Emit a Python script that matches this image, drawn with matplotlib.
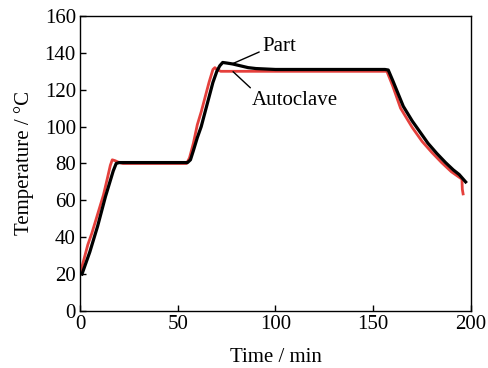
import matplotlib
matplotlib.use("Agg")
import matplotlib.pyplot as plt

plt.rcParams['font.family'] = ['Liberation Serif', 'DejaVu Serif']

# Part temperature (black)
part_t = [1, 3, 5, 7, 9, 11, 13, 15, 17, 18.5, 20, 30, 40, 50, 55, 56.5, 58, 60,
          62, 64, 66, 68, 70, 71.5, 73, 75, 78, 82, 86, 90, 100, 120, 140, 156,
          157.7, 160, 165.4, 170, 174, 178, 182.5, 187, 191, 194, 197.3]
part_T = [20, 26, 32, 39, 46, 54, 62, 69, 76, 80, 80.5, 80.5, 80.5, 80.5, 80.5,
          82, 87, 94, 100, 108, 116, 124, 130, 133, 134.8, 134.5, 134, 133, 132,
          131.5, 131, 131, 131, 131, 130.7, 125, 111, 103, 97, 91, 85.5, 80.5,
          76.5, 74, 70]

# Autoclave temperature (red)
auto_t = [0.5, 2, 4, 6, 8, 10, 12, 14, 15.5, 16.5, 18, 20, 22, 30, 40, 50, 54.5,
          56, 58, 60, 62, 64, 66, 68, 69, 70, 72, 80, 100, 140, 156, 157, 160, 164,
          170, 175, 180, 185, 190, 195.4, 195.6, 196]
auto_T = [22, 28, 36, 42, 49, 56, 63, 72, 79, 82, 81.5, 80.5, 80, 80, 80, 80, 80,
          83, 91, 101, 108, 116, 124, 131, 132, 131, 130, 130, 130, 130, 130, 130,
          122, 110, 99.5, 92, 86, 80.5, 75.5, 71.5, 66, 63.5]

fig = plt.figure(figsize=(4.88, 3.68), dpi=100)
ax = fig.add_axes([0.164, 0.155, 0.801, 0.8015])

ax.plot(auto_t, auto_T, color='#e5403c', linewidth=2.0)
ax.plot(part_t, part_T, color='black', linewidth=2.3)

ax.set_xlim(0, 200)
ax.set_ylim(0, 160)
ax.set_xticks([0, 50, 100, 150, 200])
ax.set_yticks(range(0, 161, 20))
ax.tick_params(direction='in', length=4, width=1, labelsize=15, pad=3)
for s in ax.spines.values():
    s.set_linewidth(1.0)

ax.set_xlabel('Time / min', fontsize=15, labelpad=10)
ax.set_ylabel('Temperature / °C', fontsize=15, labelpad=8)

# annotations
ax.annotate('Part', xy=(78.4, 134.3), xytext=(93.1, 143.2), fontsize=15,
            va='center', ha='left',
            arrowprops=dict(arrowstyle='-', color='black', lw=1.0, shrinkA=0, shrinkB=0,
                            relpos=(0, 0.3)))
ax.annotate('Autoclave', xy=(78.3, 129.8), xytext=(87.8, 114.4), fontsize=15,
            va='center', ha='left',
            arrowprops=dict(arrowstyle='-', color='black', lw=1.0, shrinkA=0, shrinkB=0,
                            relpos=(0.02, 1.0)))

fig.savefig('out.png', dpi=100)
